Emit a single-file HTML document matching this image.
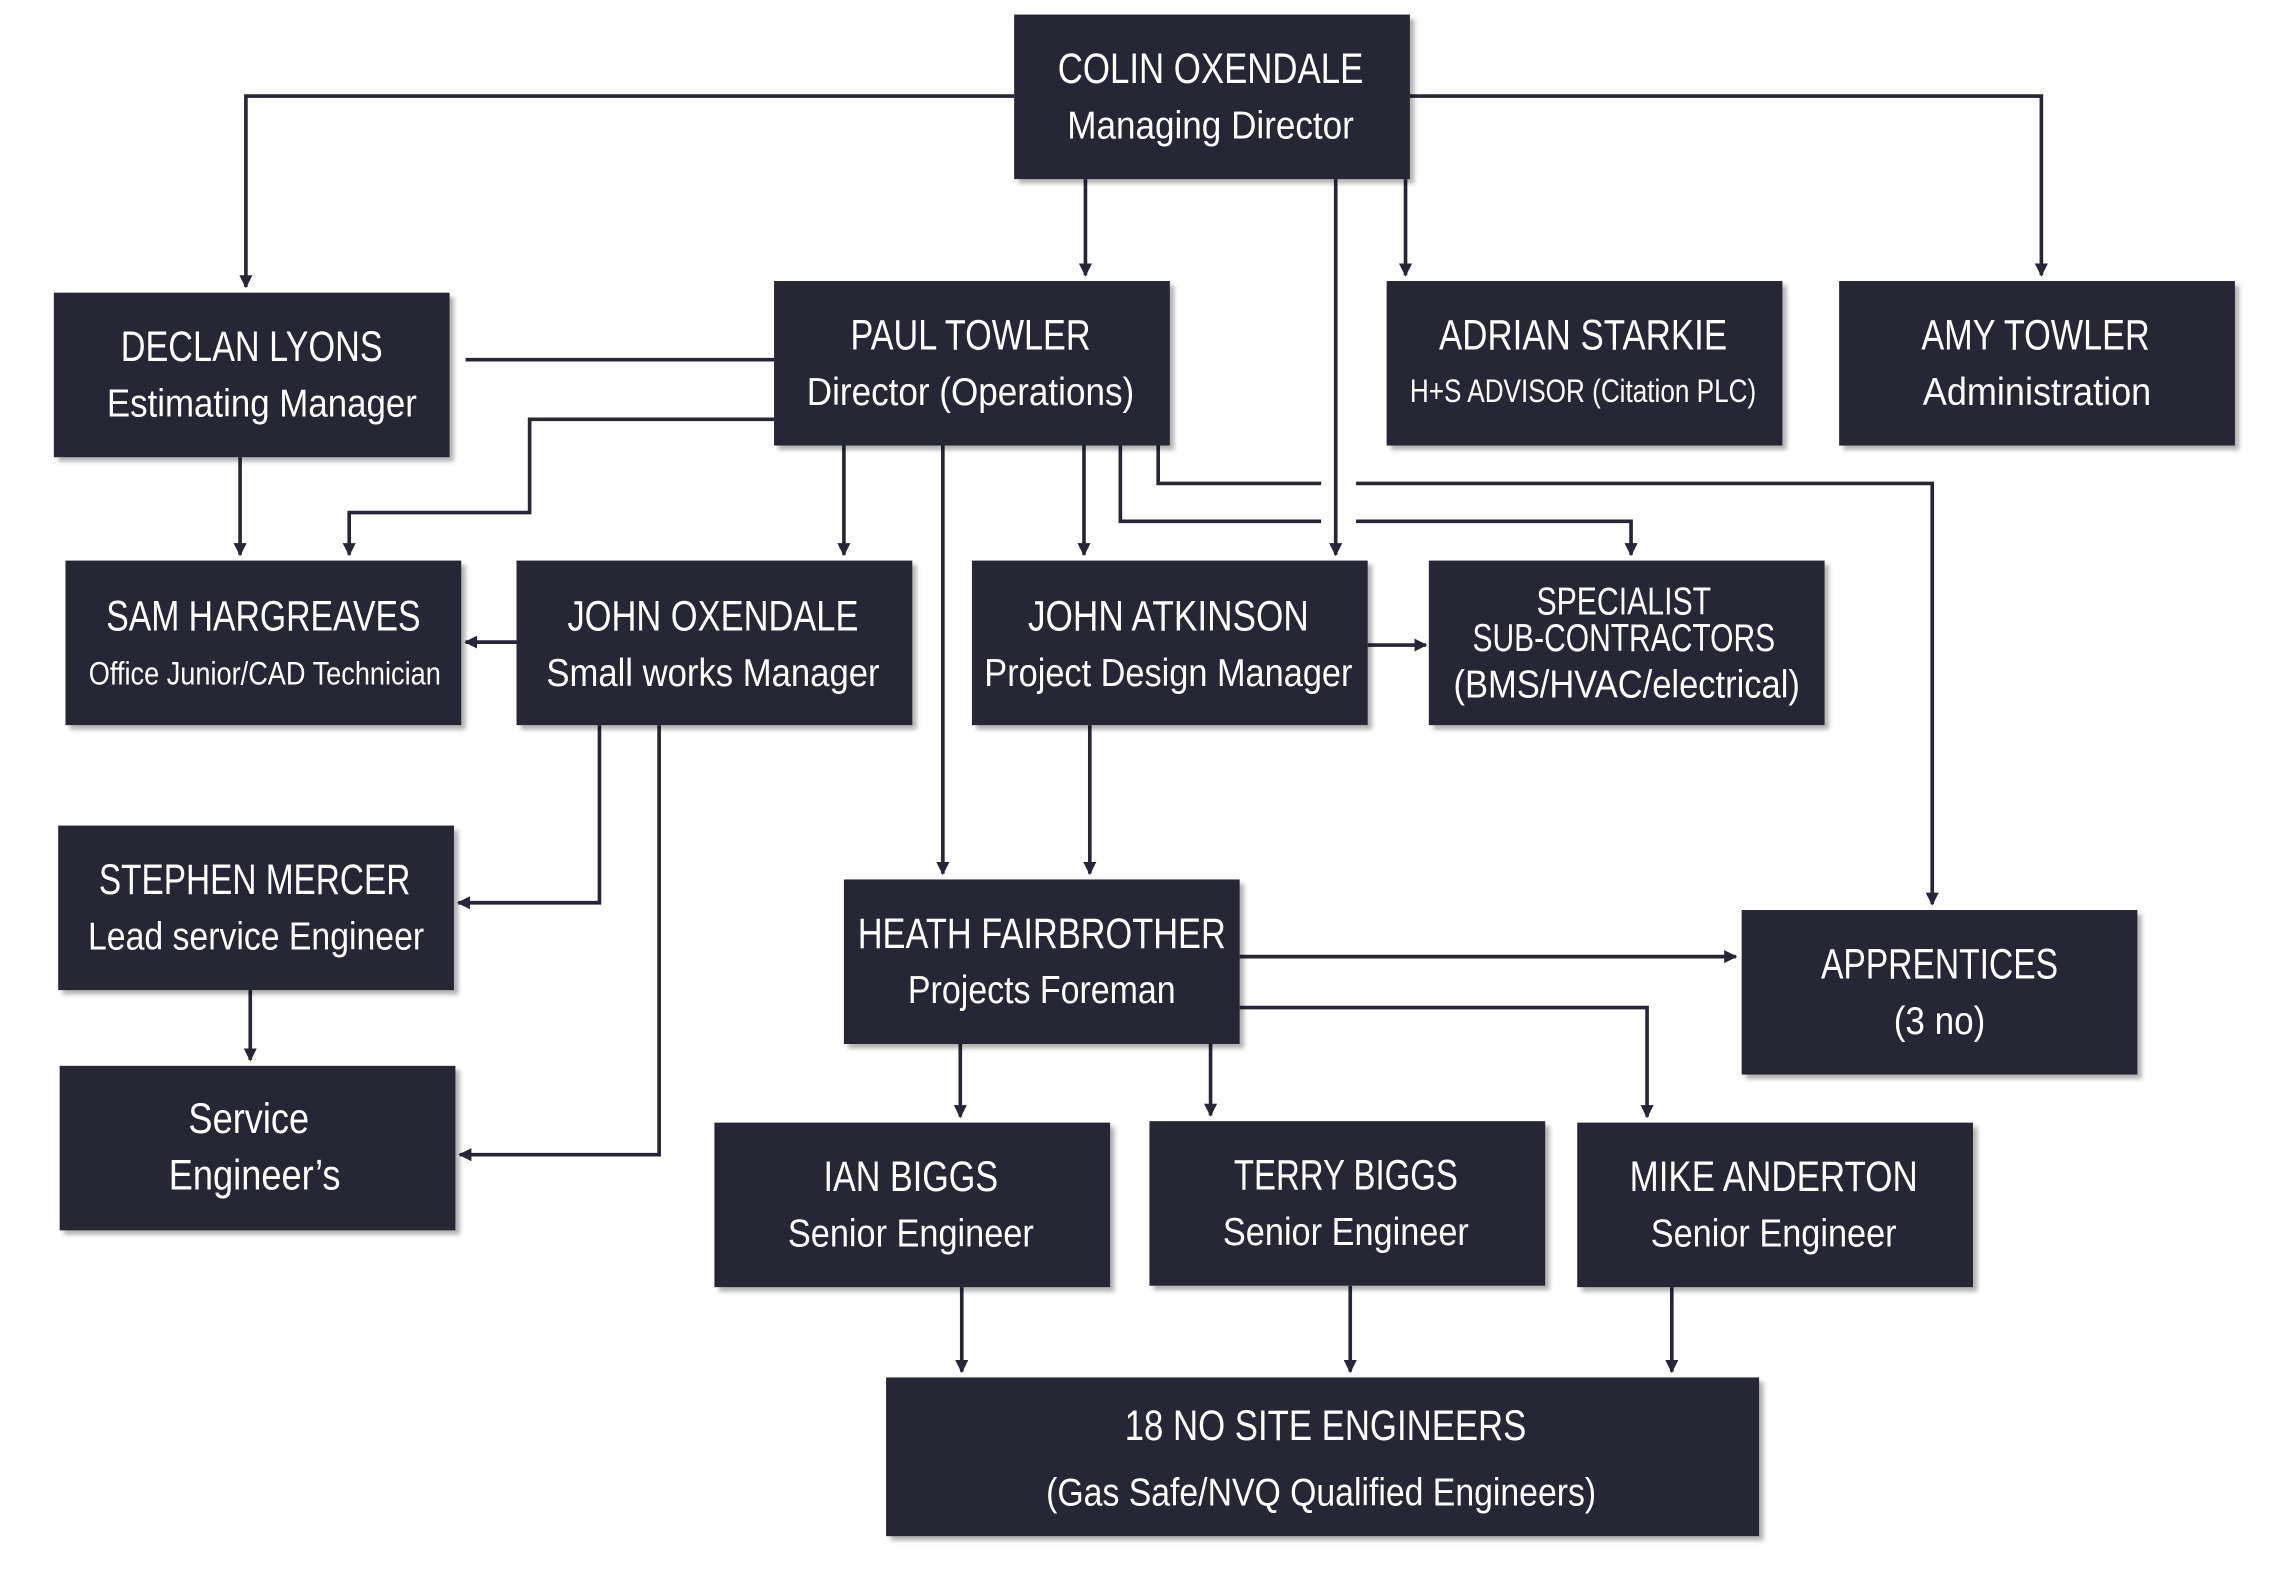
<!DOCTYPE html>
<html><head><meta charset="utf-8"><style>
html,body{margin:0;padding:0;background:#fff;}
svg{display:block;}
text{font-family:"Liberation Sans Narrow","Liberation Sans",sans-serif;fill:#fff;text-anchor:middle;}
.t{font-size:29px;}
.s{font-size:27px;}
.xs{font-size:22px;}
.b{fill:#262636;}
.l{stroke:#262636;stroke-width:2.5;fill:none;}
</style></head><body>
<svg width="2280" height="1574" viewBox="0 0 1567 1081" preserveAspectRatio="none" xmlns="http://www.w3.org/2000/svg">
<defs>
<filter id="f" x="-5%" y="-5%" width="115%" height="120%"><feDropShadow dx="3" dy="3" stdDeviation="1.5" flood-color="#000" flood-opacity="0.3"/></filter>
<marker id="ar" markerWidth="10" markerHeight="10" refX="8" refY="5" orient="auto" markerUnits="userSpaceOnUse"><path d="M0,0.5 L9,5 L0,9.5z" fill="#262636"/></marker>
</defs>
<g class="l">
<path d="M697,66 H169 V197" marker-end="url(#ar)"/>
<path d="M969,66 H1403 V189" marker-end="url(#ar)"/>
<path d="M746,123 V189" marker-end="url(#ar)"/>
<path d="M966,123 V189" marker-end="url(#ar)"/>
<path d="M918,123 V381" marker-end="url(#ar)"/>
<path d="M320,247 H532"/>
<path d="M532,288 H364 V352 H240 V381" marker-end="url(#ar)"/>
<path d="M165,314 V381" marker-end="url(#ar)"/>
<path d="M580,306 V381" marker-end="url(#ar)"/>
<path d="M648,306 V600" marker-end="url(#ar)"/>
<path d="M745,306 V381" marker-end="url(#ar)"/>
<path d="M770,306 V358 H908"/>
<path d="M932,358 H1121 V381" marker-end="url(#ar)"/>
<path d="M796,306 V332 H908"/>
<path d="M932,332 H1328 V621" marker-end="url(#ar)"/>
<path d="M355,441 H320" marker-end="url(#ar)"/>
<path d="M940,443 H980" marker-end="url(#ar)"/>
<path d="M412,498 V620 H315" marker-end="url(#ar)"/>
<path d="M453,498 V793 H316" marker-end="url(#ar)"/>
<path d="M172,680 V728" marker-end="url(#ar)"/>
<path d="M749,498 V600" marker-end="url(#ar)"/>
<path d="M852,657 H1193" marker-end="url(#ar)"/>
<path d="M852,692 H1132 V767" marker-end="url(#ar)"/>
<path d="M660,717 V767" marker-end="url(#ar)"/>
<path d="M832,717 V766" marker-end="url(#ar)"/>
<path d="M661,884 V942" marker-end="url(#ar)"/>
<path d="M928,883 V942" marker-end="url(#ar)"/>
<path d="M1149,884 V942" marker-end="url(#ar)"/>
</g>
<g class="b" filter="url(#f)">
<rect x="697" y="10" width="272" height="113"/>
<rect x="37" y="201" width="272" height="113"/>
<rect x="532" y="193" width="272" height="113"/>
<rect x="953" y="193" width="272" height="113"/>
<rect x="1264" y="193" width="272" height="113"/>
<rect x="45" y="385" width="272" height="113"/>
<rect x="355" y="385" width="272" height="113"/>
<rect x="668" y="385" width="272" height="113"/>
<rect x="982" y="385" width="272" height="113"/>
<rect x="40" y="567" width="272" height="113"/>
<rect x="41" y="732" width="272" height="113"/>
<rect x="580" y="604" width="272" height="113"/>
<rect x="1197" y="625" width="272" height="113"/>
<rect x="491" y="771" width="272" height="113"/>
<rect x="790" y="770" width="272" height="113"/>
<rect x="1084" y="771" width="272" height="113"/>
<rect x="609" y="946" width="600" height="109"/>
</g>
<text class="t" x="832" y="57" textLength="210" lengthAdjust="spacingAndGlyphs">COLIN OXENDALE</text>
<text class="s" x="832" y="95" textLength="197" lengthAdjust="spacingAndGlyphs">Managing Director</text>
<text class="t" x="173" y="248" textLength="180" lengthAdjust="spacingAndGlyphs">DECLAN LYONS</text>
<text class="s" x="180" y="286" textLength="213" lengthAdjust="spacingAndGlyphs">Estimating Manager</text>
<text class="t" x="667" y="240" textLength="165" lengthAdjust="spacingAndGlyphs">PAUL TOWLER</text>
<text class="s" x="667" y="278" textLength="225" lengthAdjust="spacingAndGlyphs">Director (Operations)</text>
<text class="t" x="1088" y="240" textLength="198" lengthAdjust="spacingAndGlyphs">ADRIAN STARKIE</text>
<text class="xs" x="1088" y="276" textLength="238" lengthAdjust="spacingAndGlyphs">H+S ADVISOR (Citation PLC)</text>
<text class="t" x="1399" y="240" textLength="157" lengthAdjust="spacingAndGlyphs">AMY TOWLER</text>
<text class="s" x="1400" y="278" textLength="157" lengthAdjust="spacingAndGlyphs">Administration</text>
<text class="t" x="181" y="433" textLength="216" lengthAdjust="spacingAndGlyphs">SAM HARGREAVES</text>
<text class="xs" x="182" y="470" textLength="242" lengthAdjust="spacingAndGlyphs">Office Junior/CAD Technician</text>
<text class="t" x="490" y="433" textLength="200" lengthAdjust="spacingAndGlyphs">JOHN OXENDALE</text>
<text class="s" x="490" y="471" textLength="229" lengthAdjust="spacingAndGlyphs">Small works Manager</text>
<text class="t" x="803" y="433" textLength="193" lengthAdjust="spacingAndGlyphs">JOHN ATKINSON</text>
<text class="s" x="803" y="471" textLength="253" lengthAdjust="spacingAndGlyphs">Project Design Manager</text>
<text class="s" x="1116" y="422" textLength="120" lengthAdjust="spacingAndGlyphs">SPECIALIST</text>
<text class="s" x="1116" y="447" textLength="208" lengthAdjust="spacingAndGlyphs">SUB-CONTRACTORS</text>
<text class="s" x="1118" y="479" textLength="238" lengthAdjust="spacingAndGlyphs">(BMS/HVAC/electrical)</text>
<text class="t" x="175" y="614" textLength="214" lengthAdjust="spacingAndGlyphs">STEPHEN MERCER</text>
<text class="s" x="176" y="652" textLength="231" lengthAdjust="spacingAndGlyphs">Lead service Engineer</text>
<text class="t" x="171" y="778" textLength="83" lengthAdjust="spacingAndGlyphs">Service</text>
<text class="t" x="175" y="817" textLength="118" lengthAdjust="spacingAndGlyphs">Engineer’s</text>
<text class="t" x="716" y="651" textLength="253" lengthAdjust="spacingAndGlyphs">HEATH FAIRBROTHER</text>
<text class="s" x="716" y="689" textLength="184" lengthAdjust="spacingAndGlyphs">Projects Foreman</text>
<text class="t" x="1333" y="672" textLength="163" lengthAdjust="spacingAndGlyphs">APPRENTICES</text>
<text class="s" x="1333" y="710" textLength="63" lengthAdjust="spacingAndGlyphs">(3 no)</text>
<text class="t" x="626" y="818" textLength="120" lengthAdjust="spacingAndGlyphs">IAN BIGGS</text>
<text class="s" x="626" y="856" textLength="169" lengthAdjust="spacingAndGlyphs">Senior Engineer</text>
<text class="t" x="925" y="817" textLength="154" lengthAdjust="spacingAndGlyphs">TERRY BIGGS</text>
<text class="s" x="925" y="855" textLength="169" lengthAdjust="spacingAndGlyphs">Senior Engineer</text>
<text class="t" x="1219" y="818" textLength="198" lengthAdjust="spacingAndGlyphs">MIKE ANDERTON</text>
<text class="s" x="1219" y="856" textLength="169" lengthAdjust="spacingAndGlyphs">Senior Engineer</text>
<text class="t" x="911" y="989" textLength="276" lengthAdjust="spacingAndGlyphs">18 NO SITE ENGINEERS</text>
<text class="s" x="908" y="1034" textLength="378" lengthAdjust="spacingAndGlyphs">(Gas Safe/NVQ Qualified Engineers)</text>
</svg>
</body></html>
